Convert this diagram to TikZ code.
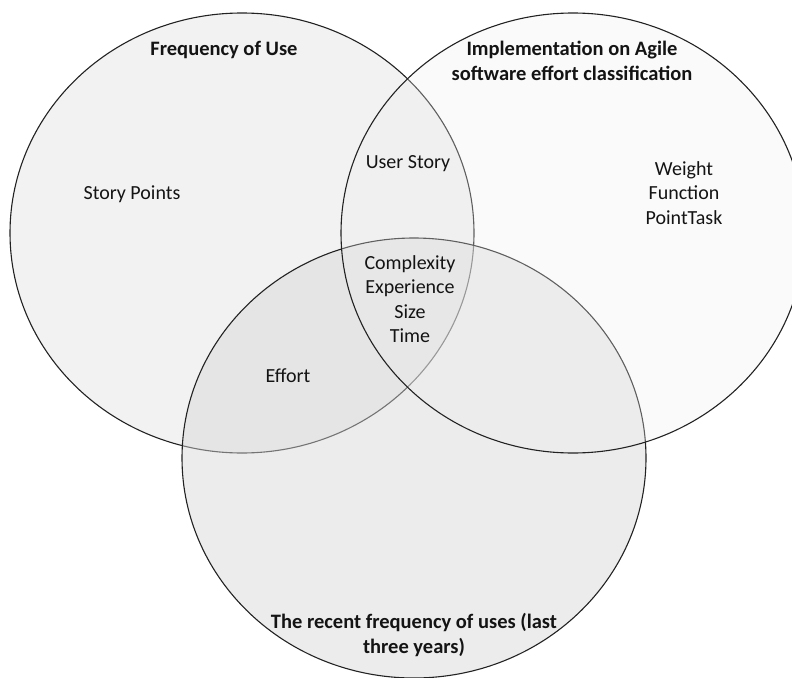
\documentclass[tikz,border=0pt]{standalone}
\usepackage{fontspec}
\setmainfont{Carlito}
\usetikzlibrary{shapes.geometric}
\definecolor{leftfill}{gray}{0.949}
\definecolor{botfill}{RGB}{214,214,214}
\definecolor{rightfill}{RGB}{238,238,238}
\definecolor{edge}{RGB}{34,34,34}
\definecolor{ink}{RGB}{20,20,20}
\tikzset{
  setshape/.style={ellipse, draw=edge, line width=1.1pt, inner sep=0pt, outer sep=0pt,
    minimum width=464pt, minimum height=440pt},
  title/.style={font=\fontsize{20.5}{24.5}\selectfont\bfseries, text=ink, align=center, inner sep=0pt},
  item/.style={font=\fontsize{20}{24.5}\selectfont, text=ink, align=center, inner sep=0pt},
}
\begin{document}
\begin{tikzpicture}[x=1pt, y=-1pt]
  \useasboundingbox (0,0) rectangle (792,677);
  \clip (0,0) rectangle (792,677);
  % the three sets, drawn left, bottom, right
  \node[setshape, fill=leftfill] (setA) at (242,233) {};
  \node[setshape, fill=botfill, fill opacity=0.46] (setC) at (414,458) {};
  \node[setshape, fill=rightfill, fill opacity=0.3] (setB) at (573,233) {};

  % set titles
  \node[title] (tA) at (224,50) {Frequency of Use};
  \node[title] (tB) at (572,61) {Implementation on Agile\\software effort classification};
  \node[title] (tC) at (414,635) {The recent frequency of uses (last\\three years)};

  % region contents
  \node[item] (onlyA) at (132,194) {Story Points};
  \node[item] (onlyB) at (684,193) {Weight\\Function\\PointTask};
  \node[item] (AB) at (408,164) {User Story};
  \node[item] (AC) at (288,376) {Effort};
  \node[item] (ABC) at (410,299) {Complexity\\Experience\\Size\\Time};
\end{tikzpicture}
\end{document}
